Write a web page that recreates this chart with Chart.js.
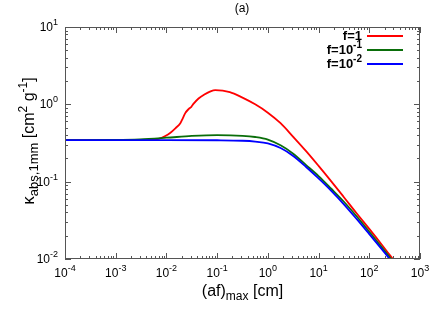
<!DOCTYPE html>
<html>
<head>
    <title>kappa abs vs (af)max</title>
    <script src="https://cdn.jsdelivr.net/npm/chart.js@4/dist/chart.umd.min.js"></script>
    <style>
        body {
            margin: 0;
            background: white;
        }
        #wrap {
            width: 436px;
            height: 327px;
        }
    </style>
</head>
<body>
    <div id="wrap"><canvas id="kappaChart" width="436" height="327"></canvas></div>

    <script>
        // data
        const xRed = [1e-4, 1e-3, 3e-3, 5e-3, 7e-3, 0.0095, 0.012, 0.015, 0.0188, 0.021, 0.0235, 0.0274, 0.031, 0.0344, 0.043, 0.056, 0.072, 0.092, 0.178, 0.316, 0.562, 1.0, 1.78, 3.16, 5.62, 10, 17.8, 31.6, 56.2, 100, 178, 316];
        const yRed = [0.345, 0.345, 0.345, 0.347, 0.358, 0.39, 0.43, 0.49, 0.57, 0.66, 0.77, 0.87, 0.93, 1.02, 1.19, 1.34, 1.46, 1.53, 1.44, 1.22, 1.0, 0.78, 0.57, 0.38, 0.25, 0.16, 0.101, 0.063, 0.039, 0.0245, 0.0152, 0.0093];

        const xGreen = [1e-4, 1e-3, 3e-3, 0.01, 0.0316, 0.1, 0.316, 0.562, 1.0, 1.78, 3.16, 5.62, 10, 17.8, 31.6, 56.2, 100, 178, 316];
        const yGreen = [0.345, 0.347, 0.353, 0.37, 0.39, 0.40, 0.392, 0.378, 0.35, 0.295, 0.23, 0.165, 0.118, 0.081, 0.055, 0.0357, 0.0225, 0.0141, 0.0088];

        const xBlue = [1e-4, 1e-3, 0.01, 0.1, 0.316, 0.562, 1.0, 1.78, 3.16, 5.62, 10, 17.8, 31.6, 56.2, 100, 178, 316];
        const yBlue = [0.345, 0.345, 0.345, 0.343, 0.338, 0.33, 0.313, 0.272, 0.215, 0.156, 0.110, 0.076, 0.051, 0.033, 0.021, 0.0133, 0.0083];

        const seriesNames = ['f=1', 'f=10', 'f=10'];
        const seriesSup = ['', '-1', '-2'];
        const seriesColors = ['#ff0000', '#0a6e0a', '#0000ff'];

        const xTickExps = [-4, -3, -2, -1, 0, 1, 2, 3];
        const yTickExps = [-2, -1, 0, 1];

        function toPoints(xs, ys) {
            return xs.map((x, i) => ({ x: x, y: ys[i] }));
        }

        // draws a list of text pieces (with sub/superscripts) on one line
        function drawRich(c, parts, x, y, align) {
            let total = 0;
            parts.forEach(p => {
                c.font = (p.bold ? 'bold ' : '') + p.size + 'px "Liberation Sans", Arial, sans-serif';
                p.w = c.measureText(p.t).width;
                total += p.w;
            });
            let cx = x;
            if (align === 'center') cx = x - total / 2;
            if (align === 'right') cx = x - total;
            c.textAlign = 'left';
            c.textBaseline = 'alphabetic';
            parts.forEach(p => {
                c.font = (p.bold ? 'bold ' : '') + p.size + 'px "Liberation Sans", Arial, sans-serif';
                c.fillText(p.t, cx, y + (p.dy || 0));
                cx += p.w;
            });
        }

        const axisPlugin = {
            id: 'gnuplotAxes',
            afterDraw(chart) {
                const c = chart.ctx;
                const a = chart.chartArea;
                const xs = chart.scales.x;
                const ys = chart.scales.y;
                c.save();

                // frame
                c.strokeStyle = '#555';
                c.lineWidth = 1;
                c.strokeRect(a.left + 0.5, a.top + 0.5, a.right - a.left - 1, a.bottom - a.top - 1);

                // inward ticks, majors at decades, minors 2..9
                c.beginPath();
                xTickExps.forEach((e, i) => {
                    for (let m = 1; m <= 9; m++) {
                        if (i === xTickExps.length - 1 && m > 1) break;
                        const px = Math.round(xs.getPixelForValue(m * Math.pow(10, e))) + 0.5;
                        const len = m === 1 ? 6 : 3;
                        c.moveTo(px, a.bottom);
                        c.lineTo(px, a.bottom - len);
                        c.moveTo(px, a.top);
                        c.lineTo(px, a.top + len);
                    }
                });
                yTickExps.forEach((e, i) => {
                    for (let m = 1; m <= 9; m++) {
                        if (i === yTickExps.length - 1 && m > 1) break;
                        const py = Math.round(ys.getPixelForValue(m * Math.pow(10, e))) + 0.5;
                        const len = m === 1 ? 6 : 3;
                        c.moveTo(a.left, py);
                        c.lineTo(a.left + len, py);
                        c.moveTo(a.right, py);
                        c.lineTo(a.right - len, py);
                    }
                });
                c.stroke();

                // tick labels
                c.fillStyle = '#000';
                xTickExps.forEach(e => {
                    const px = xs.getPixelForValue(Math.pow(10, e));
                    drawRich(c, [{ t: '10', size: 12 }, { t: String(e), size: 9, dy: -6 }], px, a.bottom + 18, 'center');
                });
                yTickExps.forEach(e => {
                    const py = ys.getPixelForValue(Math.pow(10, e));
                    drawRich(c, [{ t: '10', size: 12 }, { t: String(e), size: 9, dy: -6 }], a.left - 7, py + 4, 'right');
                });

                // axis titles
                drawRich(c, [
                    { t: '(af)', size: 16 },
                    { t: 'max', size: 12, dy: 4 },
                    { t: ' [cm]', size: 16 }
                ], (a.left + a.right) / 2, a.bottom + 37, 'center');

                c.save();
                c.translate(34, 141);
                c.rotate(-Math.PI / 2);
                drawRich(c, [
                    { t: '\u03ba', size: 17 },
                    { t: 'abs,1mm', size: 13, dy: 4 },
                    { t: ' [cm', size: 16 },
                    { t: '2', size: 12, dy: -7 },
                    { t: ' g', size: 16 },
                    { t: '-1', size: 12, dy: -7 },
                    { t: ']', size: 16 }
                ], 0, 0, 'center');
                c.restore();

                // title
                drawRich(c, [{ t: '(a)', size: 12 }], 242, 12, 'center');

                // key, gnuplot style
                seriesNames.forEach((name, i) => {
                    const ty = 40 + i * 14;
                    const parts = [{ t: name, size: 13, bold: true }];
                    if (seriesSup[i]) parts.push({ t: seriesSup[i], size: 10, bold: true, dy: -6 });
                    drawRich(c, parts, 362, ty, 'right');
                    c.strokeStyle = seriesColors[i];
                    c.lineWidth = 2;
                    c.beginPath();
                    c.moveTo(367, ty - 4);
                    c.lineTo(403, ty - 4);
                    c.stroke();
                });

                c.restore();
            }
        };

        const chart = new Chart(document.getElementById('kappaChart'), {
            type: 'line',
            data: {
                datasets: [
                    {
                        label: 'f=1',
                        data: toPoints(xRed, yRed),
                        borderColor: seriesColors[0],
                        borderWidth: 1.8,
                        order: 2
                    },
                    {
                        label: 'f=10^-1',
                        data: toPoints(xGreen, yGreen),
                        borderColor: seriesColors[1],
                        borderWidth: 1.8,
                        order: 1
                    },
                    {
                        label: 'f=10^-2',
                        data: toPoints(xBlue, yBlue),
                        borderColor: seriesColors[2],
                        borderWidth: 1.8,
                        order: 0
                    }
                ]
            },
            options: {
                responsive: false,
                animation: false,
                layout: {
                    padding: { left: 65, right: 16, top: 27, bottom: 68 }
                },
                elements: {
                    point: { radius: 0 },
                    line: { cubicInterpolationMode: 'monotone', fill: false }
                },
                plugins: {
                    legend: { display: false },
                    tooltip: { enabled: false }
                },
                scales: {
                    x: {
                        type: 'logarithmic',
                        min: Math.pow(10, xTickExps[0]),
                        max: Math.pow(10, xTickExps[xTickExps.length - 1]),
                        display: false
                    },
                    y: {
                        type: 'logarithmic',
                        min: Math.pow(10, yTickExps[0]),
                        max: Math.pow(10, yTickExps[yTickExps.length - 1]),
                        display: false
                    }
                }
            },
            plugins: [axisPlugin]
        });
    </script>
</body>
</html>
